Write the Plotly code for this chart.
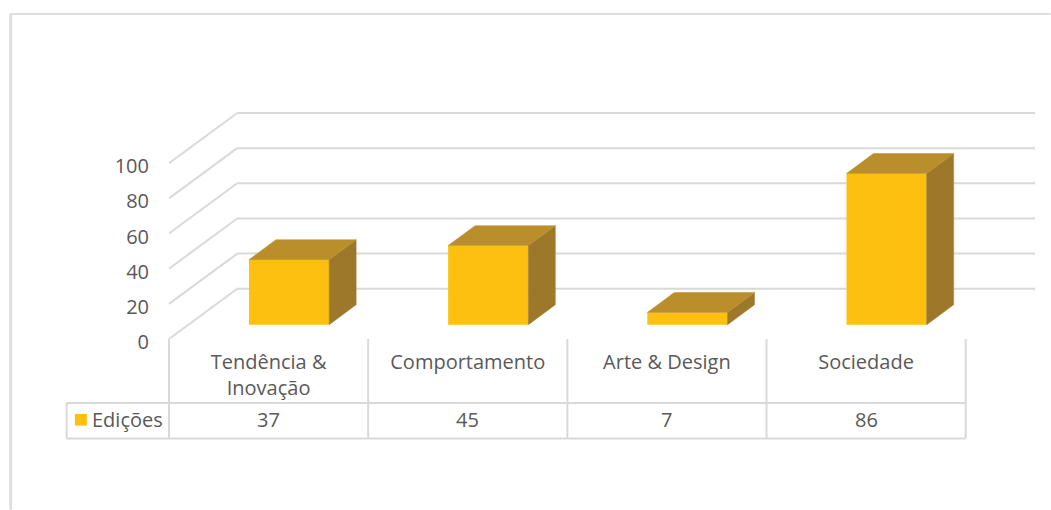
import plotly.graph_objects as go

# Chart data
categories = ["Tendência &<br>Inovação", "Comportamento", "Arte &amp; Design", "Sociedade"]
series_name = "Edições"
edicoes = [37, 45, 7, 86]
y_ticks = [0, 20, 40, 60, 80, 100]

# Page and plot geometry (pixels)
W, H = 1051, 510
PLOT_L, PLOT_R, PLOT_T, PLOT_B = 167.5, 1035.5, 100.0, 339.3
TABLE_L = 168.5
BAND_PX = 199.4
UNIT_PX = 1.76

# Pseudo-3D projection, in axis units
WALL_DX = 68.3 / BAND_PX
WALL_DY = 50.3 / UNIT_PX
BAR_SHIFT_X = 20.5 / BAND_PX
BAR_BASE = 14.3 / UNIT_PX
BAR_WIDTH = 80.3 / BAND_PX
BAR_DX = 27.0 / BAND_PX
BAR_DY = 20.0 / UNIT_PX

X_MIN = -0.5 - (TABLE_L - PLOT_L) / BAND_PX
X_WALL = -0.5
X_MAX = X_MIN + (PLOT_R - PLOT_L) / BAND_PX
Y_MAX = (PLOT_B - PLOT_T) / UNIT_PX

GRID = "#D9D9D9"
TEXT = "#595959"
FRONT = "#FEC010"
SIDE = "#9E782A"
TOP = "#BA8F2B"
FONT = "Open Sans, Noto Sans, sans-serif"
FONT_SIZE = 20


def px_x(px):
    return (px - PLOT_L) / (PLOT_R - PLOT_L)


def px_y(px):
    return (PLOT_B - px) / (PLOT_B - PLOT_T)


fig = go.Figure()

# Front faces of the columns
xs = [i + BAR_SHIFT_X for i in range(len(edicoes))]
fig.add_trace(go.Bar(
    x=xs,
    y=edicoes,
    base=BAR_BASE,
    width=BAR_WIDTH,
    name=series_name,
    marker=dict(color=FRONT, line=dict(width=0)),
    showlegend=False,
))

# Side and top faces of the columns
for cx, v in zip(xs, edicoes):
    x0 = cx - BAR_WIDTH / 2
    x1 = cx + BAR_WIDTH / 2
    top = BAR_BASE + v
    fig.add_trace(go.Scatter(
        x=[x1, x1 + BAR_DX, x1 + BAR_DX, x1, x1],
        y=[BAR_BASE, BAR_BASE + BAR_DY, top + BAR_DY, top, BAR_BASE],
        mode="lines", fill="toself", fillcolor=SIDE,
        line=dict(color=SIDE, width=0.5),
        hoverinfo="skip", showlegend=False, cliponaxis=False,
    ))
    fig.add_trace(go.Scatter(
        x=[x0, x0 + BAR_DX, x1 + BAR_DX, x1, x0],
        y=[top, top + BAR_DY, top + BAR_DY, top, top],
        mode="lines", fill="toself", fillcolor=TOP,
        line=dict(color=TOP, width=0.5),
        hoverinfo="skip", showlegend=False, cliponaxis=False,
    ))


def line_shape(x0, y0, x1, y1, color=GRID, width=2):
    return dict(type="line", xref="paper", yref="paper", layer="below",
                x0=px_x(x0), x1=px_x(x1), y0=px_y(y0), y1=px_y(y1),
                line=dict(color=color, width=width))


# Gridlines running back from the value axis, kept behind the columns
shapes = []
for v in y_ticks:
    shapes.append(dict(type="line", xref="x", yref="y", layer="below",
                       x0=X_WALL, y0=v, x1=X_WALL + WALL_DX, y1=v + WALL_DY,
                       line=dict(color=GRID, width=2)))
    shapes.append(dict(type="line", xref="x", yref="y", layer="below",
                       x0=X_WALL + WALL_DX, y0=v + WALL_DY, x1=X_MAX, y1=v + WALL_DY,
                       line=dict(color=GRID, width=2)))

# Data table grid below the axis
TABLE_EDGES = [TABLE_L + BAND_PX * i for i in range(len(edicoes) + 1)]
TABLE_LEFT, TABLE_MID, TABLE_BOTTOM = 66.0, 403.3, 439.0
shapes += [
    line_shape(TABLE_LEFT, TABLE_MID, TABLE_EDGES[-1], TABLE_MID),
    line_shape(TABLE_LEFT, TABLE_BOTTOM, TABLE_EDGES[-1], TABLE_BOTTOM),
    line_shape(TABLE_LEFT, TABLE_MID, TABLE_LEFT, TABLE_BOTTOM),
]
shapes += [line_shape(e, PLOT_B, e, TABLE_BOTTOM) for e in TABLE_EDGES]

# Outer chart border: top and left edges only
shapes += [
    line_shape(9.5, 14, W, 14, color="#DEDEDE", width=2),
    line_shape(10, 14, 10, H, color="#DEDEDE", width=3),
]

# Legend key of the table row
shapes.append(dict(type="rect", xref="paper", yref="paper",
                   x0=px_x(74.3), x1=px_x(86.3), y0=px_y(426), y1=px_y(414.3),
                   fillcolor=FRONT, line=dict(width=0)))

# Table row: series name and values
annotations = [dict(
    text=series_name, xref="paper", yref="paper", x=px_x(89), y=px_y(420),
    xanchor="left", yanchor="middle", showarrow=False,
    font=dict(family=FONT, size=FONT_SIZE, color=TEXT),
)]
for i, v in enumerate(edicoes):
    annotations.append(dict(
        text=str(v), xref="x", yref="paper", x=i, y=px_y(420),
        xanchor="center", yanchor="middle", showarrow=False,
        font=dict(family=FONT, size=FONT_SIZE, color=TEXT),
    ))

fig.update_layout(
    width=W, height=H,
    margin=dict(l=PLOT_L, r=W - PLOT_R, t=PLOT_T, b=H - PLOT_B, pad=0),
    paper_bgcolor="white", plot_bgcolor="rgba(0,0,0,0)",
    showlegend=False,
    shapes=shapes,
    annotations=annotations,
    font=dict(family=FONT, size=FONT_SIZE, color=TEXT),
    xaxis=dict(
        range=[X_MIN, X_MAX],
        tickmode="array",
        tickvals=list(range(len(categories))),
        ticktext=categories,
        showgrid=False, zeroline=False, showline=False, ticks="",
        ticklabelstandoff=9,
        tickangle=0,
        tickfont=dict(family=FONT, size=FONT_SIZE, color=TEXT),
        automargin=False,
    ),
    yaxis=dict(
        range=[0, Y_MAX],
        tickmode="array",
        tickvals=y_ticks,
        ticktext=[str(t) for t in y_ticks],
        showgrid=False, zeroline=False, showline=False, ticks="",
        ticklabelstandoff=18,
        ticklabelshift=3,
        tickfont=dict(family=FONT, size=FONT_SIZE, color=TEXT),
        automargin=False,
    ),
)

fig.write_html("out.html", config=dict(displayModeBar=False))
